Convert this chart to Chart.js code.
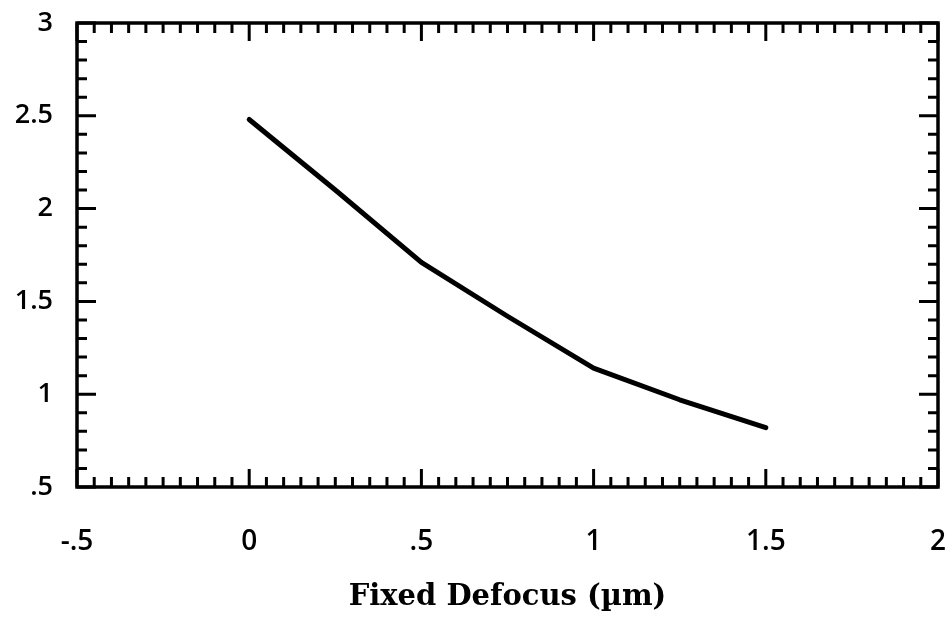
<!DOCTYPE html>
<html>
<head>
<meta charset="utf-8">
<title>Fixed Defocus</title>
<script src="https://cdn.jsdelivr.net/npm/chart.js@4/dist/chart.umd.min.js"></script>
<style>
    html, body { margin: 0; padding: 0; background: #ffffff; }
    #defocusChart { display: block; }
</style>
</head>
<body>
<canvas id="defocusChart" width="952" height="621"></canvas>
<script>
// curve samples
const defocus = [0, 0.25, 0.5, 0.75, 1, 1.25, 1.5];
const response = [2.48, 2.10, 1.71, 1.42, 1.14, 0.97, 0.82];

// axis tick labels
const xTickLabels = ["-.5", "0", ".5", "1", "1.5", "2"];
const yTickLabels = [".5", "1", "1.5", "2", "2.5", "3"];

// inward tick marks and box frame on all four sides
const frameTicks = {
    id: "frameTicks",
    afterDatasetsDraw(chart) {
        const { ctx, chartArea: a, scales: { x, y } } = chart;
        ctx.save();
        ctx.strokeStyle = "#000";
        ctx.lineCap = "butt";

        ctx.lineWidth = 3;
        for (let i = 0; i <= 50; i++) {
            const px = x.getPixelForValue(-0.5 + i * 0.05);
            const len = i % 10 === 0 ? 18 : 10;
            ctx.beginPath();
            ctx.moveTo(px, a.bottom);
            ctx.lineTo(px, a.bottom - len);
            ctx.moveTo(px, a.top);
            ctx.lineTo(px, a.top + len);
            ctx.stroke();
        }
        for (let i = 0; i <= 25; i++) {
            const py = y.getPixelForValue(0.5 + i * 0.1);
            const len = i % 5 === 0 ? 19 : 10;
            ctx.beginPath();
            ctx.moveTo(a.left, py);
            ctx.lineTo(a.left + len, py);
            ctx.moveTo(a.right, py);
            ctx.lineTo(a.right - len, py);
            ctx.stroke();
        }

        ctx.lineWidth = 3.5;
        ctx.strokeRect(a.left, a.top, a.right - a.left, a.bottom - a.top);
        ctx.restore();
    }
};

// keep the label overhang from pushing the plot box around
function noScalePadding(scale) {
    scale.paddingLeft = 0;
    scale.paddingRight = 0;
    scale.paddingTop = 0;
    scale.paddingBottom = 0;
}

Chart.defaults.color = "#000";

new Chart(document.getElementById("defocusChart"), {
    type: "line",
    data: {
        datasets: [{
            data: defocus.map((d, i) => ({ x: d, y: response[i] })),
            borderColor: "#000",
            borderWidth: 5,
            borderCapStyle: "round",
            borderJoinStyle: "round",
            pointRadius: 0,
            tension: 0,
            fill: false
        }]
    },
    options: {
        responsive: false,
        animation: false,
        layout: { padding: { left: 0, right: 14, top: 23, bottom: 0 } },
        plugins: {
            legend: { display: false },
            tooltip: { enabled: false }
        },
        scales: {
            x: {
                type: "linear",
                min: -0.5,
                max: 2,
                border: { display: false },
                grid: { display: false, drawTicks: false },
                ticks: {
                    stepSize: 0.5,
                    padding: 38,
                    maxRotation: 0,
                    font: { family: "'Open Sans'", size: 28, weight: 600 },
                    callback: (v, i) => xTickLabels[i]
                },
                title: {
                    display: true,
                    text: "Fixed Defocus (µm)",
                    font: { family: "'DejaVu Serif'", size: 29, weight: "bold" },
                    padding: { top: 0, bottom: 6 }
                },
                afterFit(scale) {
                    scale.height = 134;
                    noScalePadding(scale);
                }
            },
            y: {
                type: "linear",
                min: 0.5,
                max: 3,
                border: { display: false },
                grid: { display: false, drawTicks: false },
                ticks: {
                    stepSize: 0.5,
                    padding: 24,
                    font: { family: "'Open Sans'", size: 27, weight: 600 },
                    callback: (v, i) => yTickLabels[i]
                },
                afterFit(scale) {
                    scale.width = 77;
                    noScalePadding(scale);
                }
            }
        }
    },
    plugins: [frameTicks]
});
</script>
</body>
</html>
